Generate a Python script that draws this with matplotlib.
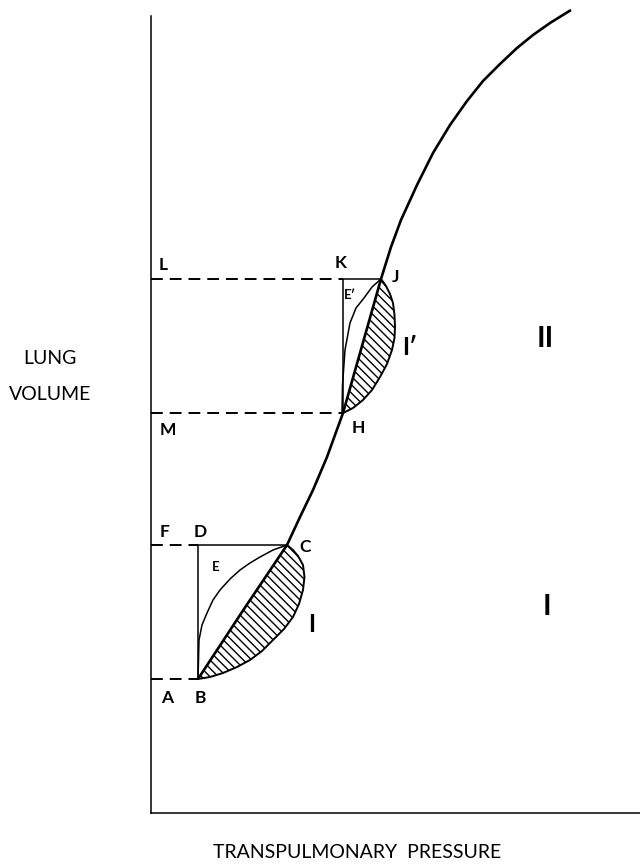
import numpy as np
import matplotlib
matplotlib.use("Agg")
import matplotlib.pyplot as plt

plt.rcParams["font.family"] = ["Lato", "DejaVu Sans"]
plt.rcParams["hatch.linewidth"] = 1.0
plt.rcParams["lines.scale_dashes"] = False

# pressure-volume curve (arbitrary units)
curve_p = [47, 91, 136, 149, 162, 176, 192, 211, 230, 240, 250, 266, 282,
           299, 316, 332, 349, 366, 382, 399, 420]
curve_v = [134, 201, 268, 296, 323, 356, 400, 467, 534, 566, 593, 628, 660,
           688, 712, 732, 749, 765, 778, 790, 803]
iB, iC, iH, iJ = 0, 2, 6, 8

# lower breath: inflation loop I and elastic curve E
loop1_p = [47, 59, 72, 86, 99, 111, 122, 133, 142, 148, 152, 153.5, 152, 147, 142, 136]
loop1_v = [134, 136, 140, 146, 153, 162, 173, 184, 196, 209, 223, 236, 248, 257, 263, 268]
elas1_p = [47, 47.5, 48, 51, 56, 62, 69, 79, 89, 99, 109, 122, 136]
elas1_v = [134, 153, 173, 188, 200, 213, 223, 234, 243, 250, 256, 263, 268]

# upper breath: loop I' and curve E'
loop2_p = [192, 202, 212, 221, 229, 236, 241, 243.5, 244, 243.5, 242, 239, 235, 230]
loop2_v = [400, 405, 413, 423, 436, 449, 463, 475, 486, 498, 510, 519, 527, 534]
elas2_p = [191, 191.5, 194, 199, 205, 213, 221, 230]
elas2_v = [400, 428, 463, 490, 505, 515, 526, 534]

W, H = 640, 867
fig = plt.figure(figsize=(W / 100, H / 100), dpi=100)
ax = fig.add_axes([151 / W, 54 / H, 489 / W, 797 / H])
ax.set_xlim(0, 489)
ax.set_ylim(0, 797)
ax.set_xticks([])
ax.set_yticks([])
for s in ["top", "right"]:
    ax.spines[s].set_visible(False)
for s in ["left", "bottom"]:
    ax.spines[s].set_linewidth(1.1)

dash = (0, (8.5, 5))
k = "black"

ax.plot(curve_p, curve_v, color=k, lw=1.9, clip_on=False, solid_capstyle="butt")

for lp, lv, ep, ev, i0, i1 in [(loop1_p, loop1_v, elas1_p, elas1_v, iB, iC),
                               (loop2_p, loop2_v, elas2_p, elas2_v, iH, iJ)]:
    seg_p = curve_p[i0:i1 + 1][::-1]
    seg_v = curve_v[i0:i1 + 1][::-1]
    ax.fill(list(lp) + seg_p, list(lv) + seg_v, facecolor="none",
            edgecolor=k, hatch="\\" * 4, lw=0)
    ax.plot(lp, lv, color=k, lw=1.4)
    ax.plot(ep, ev, color=k, lw=1.1)
    p0, v0 = curve_p[i0], curve_v[i0]
    p1, v1 = curve_p[i1], curve_v[i1]
    # dashed levels to the volume axis
    ax.plot([0, p0], [v0, v0], color=k, lw=1.4, linestyle=dash)
    ax.plot([0, p0], [v1, v1], color=k, lw=1.4, linestyle=dash)
    # right-angle construction
    ax.plot([p0, p0, p1], [v0, v1, v1], color=k, lw=1.1)

labels = [
    ("F", 14, 281), ("D", 49, 281), ("A", 16, 115), ("B", 49, 115),
    ("C", 154, 266), ("L", 12, 548), ("K", 190, 550),
    ("J", 245, 536), ("M", 17, 383), ("H", 207, 385),
]
for t, x, y in labels:
    ax.text(x, y, t, ha="center", va="center", fontsize=12.5, fontweight="bold")
ax.text(65, 246, "E", ha="center", va="center", fontsize=9.5, fontweight="bold")
ax.text(199, 518, "E\u2032", ha="center", va="center", fontsize=9.5, fontweight="bold")
ax.text(161, 189, "I", ha="center", va="center", fontsize=17, fontweight="bold")
ax.text(259, 466, "I\u2032", ha="center", va="center", fontsize=17, fontweight="bold")
ax.text(394, 474, "II", ha="center", va="center", fontsize=21, fontweight="bold")
ax.text(396, 206, "I", ha="center", va="center", fontsize=21, fontweight="bold")

fig.text(50 / W, 1 - 359 / H, "LUNG", ha="center", va="center", fontsize=14)
fig.text(50 / W, 1 - 395 / H, "VOLUME", ha="center", va="center", fontsize=14)
fig.text(357 / W, 1 - 852 / H, "TRANSPULMONARY  PRESSURE", ha="center", va="center",
         fontsize=14)

fig.savefig("out.png", dpi=100)
